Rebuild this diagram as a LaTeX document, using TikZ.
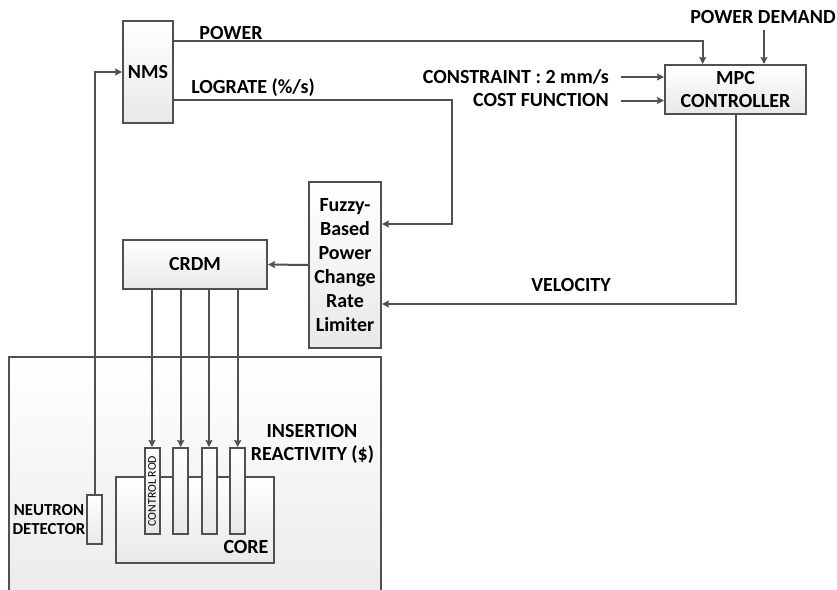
\documentclass[tikz,border=0pt]{standalone}
\usepackage{fontspec}
\setmainfont{Carlito}
\usetikzlibrary{arrows.meta,shadows}
\definecolor{ln}{HTML}{505050}
\tikzset{
  blk/.style={draw=ln,line width=2pt,top color=white,bottom color=black!9,inner sep=0pt,align=center,
    font=\fontsize{20}{23}\selectfont\bfseries,
    drop shadow={shadow xshift=1pt,shadow yshift=-1pt,opacity=.25,fill=black}},
  lbl/.style={inner sep=0pt,text height=12.6pt,text depth=0pt,font=\fontsize{20}{23}\selectfont\bfseries},
  slbl/.style={lbl,text height=10.6pt,font=\fontsize{16.8}{20}\selectfont\bfseries},
  wire/.style={draw=ln,line width=2pt},
  arr/.style={wire,-{Stealth[length=7pt,width=7pt,inset=1pt]}}
}
\begin{document}
\begin{tikzpicture}[x=1pt,y=-1pt]
\clip (0,0) rectangle (837,589);
\fill[white] (0,0) rectangle (837,589);
% boxes
\node[blk,minimum width=372pt,minimum height=273pt] (plant) at (195,493.5) {};
\node[blk,minimum width=158pt,minimum height=86pt] (core) at (195,520) {};
\node[blk,minimum width=15pt,minimum height=86pt] (rodA) at (152,491) {};
\node[blk,minimum width=15pt,minimum height=86pt] (rodB) at (180.7,491) {};
\node[blk,minimum width=15pt,minimum height=86pt] (rodC) at (209,491) {};
\node[blk,minimum width=15pt,minimum height=86pt] (rodD) at (237.7,491) {};
\node[blk,minimum width=15pt,minimum height=49pt] (det) at (94.5,519.5) {};
\node[blk,minimum width=50pt,minimum height=102pt] (nms) at (148,72) {NMS};
\node[blk,minimum width=144pt,minimum height=49pt] (crdm) at (195,264.5) {CRDM};
\node[blk,minimum width=72pt,minimum height=166pt] (fuzzy) at (345,265) {Fuzzy-\\[1pt]Based\\[1pt]Power\\[1pt]Change\\[1pt]Rate\\[1pt]Limiter};
\node[blk,minimum width=141pt,minimum height=49pt] (mpc) at (735.5,89.5) {MPC\\CONTROLLER};
% labels
\node[lbl] (lpower) at (231,33) {POWER};
\node[lbl] (llog) at (253,87) {LOGRATE (\%/s)};
\node[lbl] (lpd) at (763,17) {POWER DEMAND};
\node[lbl,anchor=east] (lcon) at (609,77) {CONSTRAINT : 2 mm/s};
\node[lbl,anchor=east] (lcost) at (609,100.5) {COST FUNCTION};
\node[lbl] (lvel) at (571,285.5) {VELOCITY};
\node[lbl] (lins) at (312,431) {INSERTION};
\node[lbl] (lrea) at (312.5,454) {REACTIVITY (\$)};
\node[slbl] (lneu) at (49,510) {NEUTRON};
\node[slbl] (ldet) at (49,529) {DETECTOR};
\node[lbl] (lcore) at (246,547) {CORE};
\node[inner sep=0pt,rotate=90,font=\fontsize{11.8}{14}\selectfont] (lrod) at (rodA) {CONTROL ROD};
% connectors
\coordinate (pdtop) at (764,30);
\draw[arr] (det.north) |- (nms.west);
\draw[arr] ([yshift=30.7pt]nms.east) -| ([xshift=-32.8pt]mpc.north);
\draw[arr] ([yshift=-28pt]nms.east) -| (452,165) |- ([yshift=41pt]fuzzy.east);
\draw[arr] (pdtop) -- (pdtop |- mpc.north);
\draw[arr] ([xshift=12pt]lcon.east) -- (lcon.east -| mpc.west);
\draw[arr] ([xshift=12pt]lcost.east) -- (lcost.east -| mpc.west);
\draw[arr] (mpc.south) |- ([yshift=-39pt]fuzzy.east);
\draw[arr] (fuzzy.west) -- (crdm.east);
\draw[arr] (rodA.north |- crdm.south) -- (rodA.north);
\draw[arr] (rodB.north |- crdm.south) -- (rodB.north);
\draw[arr] (rodC.north |- crdm.south) -- (rodC.north);
\draw[arr] (rodD.north |- crdm.south) -- (rodD.north);
\end{tikzpicture}
\end{document}
